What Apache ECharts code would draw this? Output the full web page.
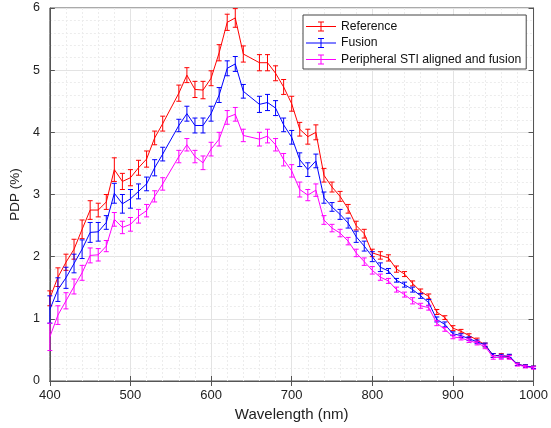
<!DOCTYPE html>
<html>
<head>
<meta charset="utf-8">
<script src="https://cdn.jsdelivr.net/npm/echarts@6/dist/echarts.min.js"></script>
<style>html,body{margin:0;padding:0;background:#fff;}#c{width:551px;height:428px;}</style>
</head>
<body>
<div id="c"></div>
<script>
const wavelength = [400,410,420,430,440,450,460,470,480,490,500,510,520,530,540,560,570,580,590,600,610,620,630,640,660,670,680,690,700,710,720,730,740,750,760,770,780,790,800,810,820,830,840,850,860,870,880,890,900,910,920,930,940,950,960,970,980,990,1000];
const referenceVals = [1.33,1.67,1.91,2.12,2.44,2.75,2.75,2.88,3.40,3.21,3.27,3.43,3.57,3.91,4.14,4.63,4.92,4.69,4.68,4.87,5.28,5.77,5.84,5.26,5.12,5.12,4.95,4.73,4.46,4.05,3.93,4.00,3.31,3.12,2.97,2.77,2.50,2.37,2.06,2.02,1.98,1.80,1.72,1.57,1.44,1.36,1.11,1.02,0.85,0.80,0.73,0.66,0.58,0.41,0.41,0.39,0.27,0.24,0.22];
const referenceErr = [0.12,0.15,0.13,0.16,0.15,0.15,0.11,0.12,0.19,0.13,0.13,0.12,0.13,0.11,0.12,0.13,0.12,0.13,0.14,0.12,0.13,0.13,0.15,0.13,0.13,0.13,0.12,0.12,0.12,0.11,0.12,0.12,0.11,0.08,0.08,0.07,0.07,0.07,0.06,0.06,0.05,0.05,0.04,0.04,0.04,0.04,0.04,0.03,0.04,0.03,0.03,0.03,0.03,0.03,0.03,0.03,0.02,0.02,0.02];
const fusionVals = [1.15,1.47,1.66,1.89,2.12,2.39,2.40,2.55,3.02,2.85,2.93,3.05,3.17,3.43,3.65,4.11,4.30,4.11,4.11,4.30,4.60,5.03,5.10,4.66,4.45,4.48,4.39,4.12,3.92,3.56,3.40,3.54,2.95,2.80,2.68,2.54,2.32,2.17,2.00,1.83,1.77,1.62,1.55,1.47,1.37,1.26,0.99,0.91,0.76,0.73,0.68,0.63,0.58,0.41,0.40,0.40,0.27,0.24,0.22];
const fusionErr = [0.22,0.19,0.17,0.15,0.15,0.16,0.15,0.11,0.16,0.15,0.15,0.12,0.11,0.13,0.11,0.10,0.12,0.12,0.12,0.12,0.12,0.12,0.12,0.11,0.13,0.13,0.12,0.11,0.11,0.11,0.11,0.11,0.09,0.07,0.08,0.08,0.09,0.08,0.08,0.07,0.04,0.03,0.04,0.04,0.04,0.05,0.04,0.04,0.03,0.03,0.03,0.03,0.03,0.03,0.03,0.03,0.02,0.02,0.02];
const peripheralVals = [0.71,1.06,1.29,1.52,1.74,2.02,2.03,2.17,2.60,2.47,2.52,2.65,2.74,2.97,3.17,3.61,3.80,3.61,3.51,3.73,3.89,4.24,4.29,3.95,3.89,3.94,3.80,3.56,3.38,3.08,2.99,3.07,2.59,2.46,2.38,2.25,2.06,1.92,1.78,1.67,1.61,1.47,1.39,1.29,1.21,1.18,0.93,0.83,0.71,0.69,0.65,0.61,0.55,0.38,0.38,0.38,0.26,0.23,0.21];
const peripheralErr = [0.22,0.15,0.13,0.12,0.12,0.12,0.10,0.09,0.11,0.10,0.11,0.11,0.10,0.09,0.10,0.10,0.10,0.10,0.11,0.11,0.11,0.11,0.11,0.10,0.11,0.11,0.10,0.10,0.10,0.12,0.09,0.10,0.07,0.06,0.06,0.06,0.06,0.06,0.06,0.05,0.04,0.04,0.04,0.05,0.04,0.04,0.04,0.03,0.03,0.03,0.03,0.03,0.03,0.03,0.03,0.03,0.02,0.02,0.02];
const seriesNames = ['Reference','Fusion','Peripheral STI aligned and fusion'];
const seriesColors = ['#ff0000','#0000ff','#ff00ff'];
const xTickLabels = ['400','500','600','700','800','900','1000'];
const yTickLabels = ['0','1','2','3','4','5','6'];

const FONT = 'Liberation Sans, Arial, Helvetica, sans-serif';
const groups = [
  [referenceVals, referenceErr],
  [fusionVals, fusionErr],
  [peripheralVals, peripheralErr]
];
const legendIcon = 'path://M0,4.5 h30 v1 h-30 z M14.5,0 h1 v10 h-1 z M12,0 h6 v1 h-6 z M12,9 h6 v1 h-6 z';

const series = [];
groups.forEach(function (g, i) {
  const vals = g[0], errs = g[1], color = seriesColors[i];
  series.push({
    name: seriesNames[i], type: 'line', xAxisIndex: 0, yAxisIndex: 0,
    data: wavelength.map(function (w, k) { return [w, vals[k]]; }),
    showSymbol: false, symbol: 'none',
    lineStyle: { color: color, width: 1 }, itemStyle: { color: color },
    z: 3 + i, silent: true
  });
  series.push({
    name: seriesNames[i], type: 'custom', xAxisIndex: 0, yAxisIndex: 0,
    data: wavelength.map(function (w, k) { return [w, vals[k] - errs[k], vals[k] + errs[k]]; }),
    encode: { x: 0, y: [1, 2] }, z: 3 + i, silent: true,
    renderItem: function (params, api) {
      const x = api.value(0);
      const p1 = api.coord([x, api.value(1)]);
      const p2 = api.coord([x, api.value(2)]);
      const w = 2.5;
      const st = { stroke: color, lineWidth: 1 };
      return { type: 'group', children: [
        { type: 'line', shape: { x1: p1[0], y1: p1[1], x2: p2[0], y2: p2[1] }, style: st },
        { type: 'line', shape: { x1: p1[0] - w, y1: p1[1], x2: p1[0] + w, y2: p1[1] }, style: st },
        { type: 'line', shape: { x1: p2[0] - w, y1: p2[1], x2: p2[0] + w, y2: p2[1] }, style: st }
      ]};
    }
  });
});

const axisLineStyle = { lineStyle: { color: '#555', width: 1 } };
const chart = echarts.init(document.getElementById('c'), null, { renderer: 'canvas' });
chart.setOption({
  animation: false,
  backgroundColor: '#fff',
  grid: { left: 42, right: 15, top: 8, bottom: 47, show: true, borderColor: '#555', borderWidth: 1, backgroundColor: '#fff' },
  legend: {
    orient: 'vertical', left: 303, top: 15, padding: [5, 5, 3, 3], itemGap: 3.5,
    itemWidth: 30, itemHeight: 10, itemStyle: { borderWidth: 0 },
    backgroundColor: '#fff', borderColor: '#444', borderWidth: 1, borderRadius: 0,
    textStyle: { fontFamily: FONT, fontSize: 12.2, lineHeight: 13, color: '#111' },
    data: seriesNames.map(function (n, i) { return { name: n, icon: legendIcon, itemStyle: { color: seriesColors[i] } }; })
  },
  xAxis: [{
    type: 'value', min: 400, max: 1000, interval: 100, position: 'bottom',
    name: 'Wavelength (nm)', nameLocation: 'middle', nameGap: 25,
    nameTextStyle: { fontFamily: FONT, fontSize: 15, color: '#222' },
    axisLine: axisLineStyle, axisTick: { inside: true, length: 5, lineStyle: { color: '#555' } },
    axisLabel: { fontFamily: FONT, fontSize: 13, color: '#222', margin: 8,
      formatter: function (v) { const i = xTickLabels.indexOf(String(v)); return i >= 0 ? xTickLabels[i] : ''; } },
    splitLine: { show: true, lineStyle: { color: '#e3e3e3', width: 1 } },
    minorTick: { show: false, splitNumber: 5 },
    minorSplitLine: { show: true, lineStyle: { color: '#ececec', width: 1, type: [2, 2] } }
  }, {
    type: 'value', min: 400, max: 1000, interval: 100, position: 'top',
    axisLine: axisLineStyle, axisTick: { inside: true, length: 5, lineStyle: { color: '#555' } },
    axisLabel: { show: false }, splitLine: { show: false }
  }],
  yAxis: [{
    type: 'value', min: 0, max: 6, interval: 1, position: 'left',
    name: 'PDP (%)', nameLocation: 'middle', nameGap: 23, nameRotate: 90,
    nameTextStyle: { fontFamily: FONT, fontSize: 13.5, color: '#222' },
    axisLine: axisLineStyle, axisTick: { inside: true, length: 5, lineStyle: { color: '#555' } },
    axisLabel: { fontFamily: FONT, fontSize: 12.5, color: '#222', margin: 10,
      formatter: function (v) { const i = yTickLabels.indexOf(String(v)); return i >= 0 ? yTickLabels[i] : ''; } },
    splitLine: { show: true, lineStyle: { color: '#e3e3e3', width: 1 } },
    minorTick: { show: false, splitNumber: 5 },
    minorSplitLine: { show: true, lineStyle: { color: '#ececec', width: 1, type: [2, 2] } }
  }, {
    type: 'value', min: 0, max: 6, interval: 1, position: 'right',
    axisLine: axisLineStyle, axisTick: { inside: true, length: 5, lineStyle: { color: '#555' } },
    axisLabel: { show: false }, splitLine: { show: false }
  }],
  series: series
});
</script>
</body>
</html>
